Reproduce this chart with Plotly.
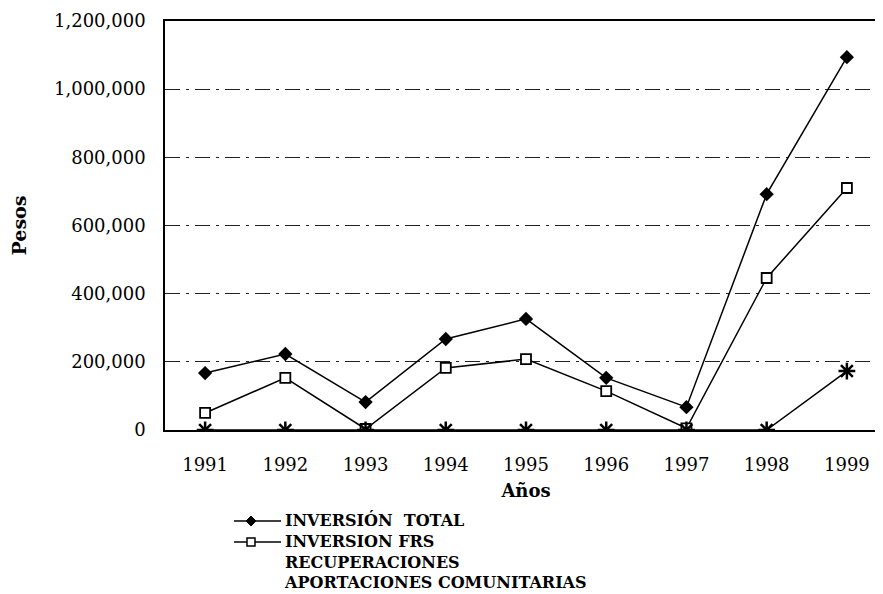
import plotly.graph_objects as go

years = ["1991", "1992", "1993", "1994", "1995", "1996", "1997", "1998", "1999"]
inversion_total = [167000, 223000, 82000, 267000, 326000, 153000, 67000, 692000, 1094000]
inversion_frs = [50000, 153000, 3000, 182000, 208000, 114000, 5000, 446000, 710000]
aportaciones = [0, 0, 0, 0, 0, 0, 0, 0, 173000]
y_ticks = [0, 200000, 400000, 600000, 800000, 1000000, 1200000]
y_tick_text = ["0", "200,000", "400,000", "600,000", "800,000", "1,000,000", "1,200,000"]
legend_lines = ["INVERSIÓN  TOTAL", "INVERSION FRS", "RECUPERACIONES", "APORTACIONES COMUNITARIAS"]

serif = "DejaVu Serif"

fig = go.Figure()
fig.add_trace(go.Scatter(
    x=years, y=inversion_total, name=legend_lines[0], mode="lines+markers",
    line=dict(color="black", width=1.5),
    marker=dict(symbol="diamond", size=11, color="black"),
))
fig.add_trace(go.Scatter(
    x=years, y=inversion_frs, name=legend_lines[1], mode="lines+markers",
    line=dict(color="black", width=1.5),
    marker=dict(symbol="square", size=10, color="white", line=dict(color="black", width=1.8)),
))
fig.add_trace(go.Scatter(
    x=years, y=aportaciones, name=legend_lines[3], mode="lines+markers",
    line=dict(color="black", width=1.5),
    marker=dict(symbol="asterisk-open", size=14, color="black", line=dict(color="black", width=2.5)),
))

# manual legend (tight line spacing as in the original)
fig.add_annotation(
    text="<br>".join(f"<b>{t}</b>" for t in legend_lines),
    xref="paper", yref="paper", x=0.162, y=-0.1907,
    xanchor="left", yanchor="top", align="left", showarrow=False,
    font=dict(family=serif, size=16, color="black"),
)
key_y = [-0.2225, -0.2739]
for ky in key_y:
    fig.add_shape(type="line", xref="paper", yref="paper",
                  x0=0.0956, x1=0.1607, y0=ky, y1=ky,
                  line=dict(color="black", width=1.5))
# diamond key
fig.add_shape(type="path", xref="paper", yref="paper", xsizemode="pixel", ysizemode="pixel",
              xanchor=0.1191, yanchor=key_y[0],
              path="M -5 0 L 0 5 L 5 0 L 0 -5 Z", fillcolor="black", line=dict(color="black", width=1))
# square key
fig.add_shape(type="rect", xref="paper", yref="paper", xsizemode="pixel", ysizemode="pixel",
              xanchor=0.1191, yanchor=key_y[1], x0=-4, x1=4, y0=-4, y1=4,
              fillcolor="white", line=dict(color="black", width=1.5))

fig.update_layout(
    width=883, height=594,
    margin=dict(l=157, r=4, t=13, b=172, autoexpand=False),
    paper_bgcolor="white", plot_bgcolor="white",
    font=dict(family=serif, color="black"),
    showlegend=False,
    xaxis=dict(
        type="category", range=[-0.5, 8.5],
        showline=True, linecolor="black", linewidth=1.5, mirror=True,
        showgrid=False, ticks="", ticklabelstandoff=18,
        tickfont=dict(family=serif, size=18, color="black"),
        title=dict(text="<b>Años</b>", font=dict(family=serif, size=18, color="black"), standoff=10),
    ),
    yaxis=dict(
        range=[0, 1200000], tickvals=y_ticks, ticktext=y_tick_text,
        showline=True, linecolor="black", linewidth=1.5,
        showgrid=True, gridcolor="#222", gridwidth=1, griddash="longdashdot",
        zeroline=False, ticks="", ticklabelstandoff=14,
        tickfont=dict(family=serif, size=18, color="black"),
        title=dict(text="<b>Pesos</b>", font=dict(family=serif, size=19, color="black"), standoff=28),
    ),
)

fig.write_html("out.html")
